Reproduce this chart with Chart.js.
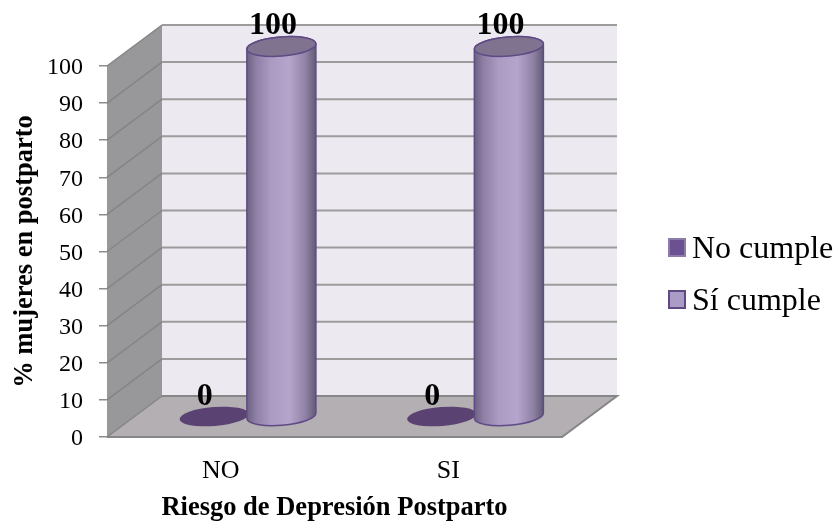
<!DOCTYPE html>
<html>
<head>
<meta charset="utf-8">
<style>
  html, body { margin: 0; padding: 0; background: #fff; }
  #wrap { width: 835px; height: 521px; }
</style>
<script src="https://cdn.jsdelivr.net/npm/chart.js@4"></script>
</head>
<body>
<div id="wrap"><canvas id="riskChart"></canvas></div>
<script>
const categories = ['NO', 'SI'];
const noCumple = [0, 0];
const siCumple = [100, 100];
const yTicks = [0, 10, 20, 30, 40, 50, 60, 70, 80, 90, 100];
const xTitle = 'Riesgo de Depresión Postparto';
const yTitle = '% mujeres en postparto';

const SERIF = '"Liberation Serif", "Times New Roman", serif';
const depthX = 55;
const depthY = 41;

function drawWalls(chart) {
    const ctx = chart.ctx;
    const area = chart.chartArea;
    const y = chart.scales.y;

    // floor
    ctx.beginPath();
    ctx.moveTo(area.left, area.bottom);
    ctx.lineTo(area.right, area.bottom);
    ctx.lineTo(area.right + depthX, area.bottom - depthY);
    ctx.lineTo(area.left + depthX, area.bottom - depthY);
    ctx.closePath();
    ctx.fillStyle = '#b3afb3';
    ctx.fill();

    // back wall
    ctx.fillStyle = '#ece9f1';
    ctx.fillRect(area.left + depthX, area.top - depthY, area.right - area.left, area.bottom - area.top);

    // side wall
    ctx.beginPath();
    ctx.moveTo(area.left, area.bottom);
    ctx.lineTo(area.left + depthX, area.bottom - depthY);
    ctx.lineTo(area.left + depthX, area.top - depthY);
    ctx.lineTo(area.left, area.top);
    ctx.closePath();
    ctx.fillStyle = '#98989a';
    ctx.fill();

    // grid lines run across the side wall and on along the back wall
    yTicks.forEach(v => {
        const py = y.getPixelForValue(v);
        ctx.beginPath();
        ctx.moveTo(area.left, py);
        ctx.lineTo(area.left + depthX, py - depthY);
        ctx.strokeStyle = '#858587';
        ctx.lineWidth = 1.5;
        ctx.stroke();
        if (v > 0) {
            ctx.beginPath();
            ctx.moveTo(area.left + depthX, py - depthY);
            ctx.lineTo(area.right + depthX, py - depthY);
            ctx.strokeStyle = '#9c9c9c';
            ctx.lineWidth = 2;
            ctx.stroke();
        }
    });

    // floor edge, only the front and the two sloping sides
    ctx.beginPath();
    ctx.moveTo(area.left + depthX, area.bottom - depthY);
    ctx.lineTo(area.right + depthX, area.bottom - depthY);
    ctx.lineTo(area.right, area.bottom);
    ctx.lineTo(area.left, area.bottom);
    ctx.strokeStyle = '#868686';
    ctx.lineWidth = 2;
    ctx.stroke();
}

function drawCylinder(ctx, bar, value) {
    const tilt = -0.08;
    const rx = bar.width / 2 + 0.5;
    const ry = 9.5;
    const cx = bar.x + depthX / 2 - 1;
    const top = bar.y - depthY / 2 + 1;
    const base = bar.base - depthY / 2;

    if (value === 0) {
        ctx.beginPath();
        ctx.ellipse(cx + 1, base, rx, ry, tilt, 0, Math.PI * 2);
        ctx.fillStyle = '#5a4272';
        ctx.fill();
        return;
    }

    const grad = ctx.createLinearGradient(cx - rx, 0, cx + rx, 0);
    grad.addColorStop(0, '#6c627f');
    grad.addColorStop(0.14, '#8f80a8');
    grad.addColorStop(0.35, '#ab9ac2');
    grad.addColorStop(0.62, '#b5a4cc');
    grad.addColorStop(0.85, '#8f82a5');
    grad.addColorStop(1, '#625a74');

    ctx.beginPath();
    ctx.ellipse(cx, base, rx, ry, tilt, 0, Math.PI);
    ctx.ellipse(cx, top, rx, ry, tilt, Math.PI, Math.PI * 2);
    ctx.closePath();
    ctx.fillStyle = grad;
    ctx.fill();
    ctx.strokeStyle = '#5f4a86';
    ctx.lineWidth = 1.5;
    ctx.stroke();

    ctx.beginPath();
    ctx.ellipse(cx, top, rx, ry, tilt, 0, Math.PI * 2);
    ctx.fillStyle = '#7f7390';
    ctx.fill();
    ctx.stroke();
}

function drawLegend(chart) {
    const ctx = chart.ctx;
    ctx.textAlign = 'left';
    ctx.textBaseline = 'middle';
    ctx.font = '32px ' + SERIF;
    chart.data.datasets.forEach((ds, i) => {
        const top = 239 + i * 52;
        ctx.fillStyle = ds.backgroundColor;
        ctx.fillRect(669, top, 16, 17);
        ctx.strokeStyle = ds.borderColor;
        ctx.lineWidth = 2;
        ctx.strokeRect(669, top, 16, 17);
        ctx.fillStyle = '#000';
        ctx.fillText(ds.label, 692, top + 11);
    });
}

const cylinders = {
    id: 'cylinders',
    beforeDatasetsDraw(chart) {
        const ctx = chart.ctx;
        ctx.save();
        drawWalls(chart);
        chart.data.datasets.forEach((ds, i) => {
            chart.getDatasetMeta(i).data.forEach((bar, j) => {
                drawCylinder(ctx, bar, ds.data[j]);
            });
        });
        // value labels float above each cylinder
        ctx.fillStyle = '#000';
        ctx.font = 'bold 32px ' + SERIF;
        ctx.textAlign = 'center';
        ctx.textBaseline = 'middle';
        chart.data.datasets.forEach((ds, i) => {
            chart.getDatasetMeta(i).data.forEach((bar, j) => {
                ctx.fillText(String(ds.data[j]), bar.x + 18, bar.y - 40);
            });
        });
        drawLegend(chart);
        ctx.restore();
    },
    beforeDatasetDraw() {
        return false;
    }
};

new Chart(document.getElementById('riskChart'), {
    type: 'bar',
    data: {
        labels: categories,
        datasets: [
            { label: 'No cumple', data: noCumple, backgroundColor: '#6b5191', borderColor: '#8d7ba8' },
            { label: 'Sí cumple', data: siCumple, backgroundColor: '#aa9cc4', borderColor: '#5f4a86' }
        ]
    },
    options: {
        responsive: true,
        maintainAspectRatio: false,
        animation: false,
        barPercentage: 1,
        categoryPercentage: 0.6,
        layout: { padding: { top: 66, right: 273, bottom: 0, left: 0 } },
        plugins: {
            tooltip: { enabled: false },
            legend: { display: false }
        },
        scales: {
            x: {
                afterFit: s => { s.height = 84; },
                grid: { display: false },
                border: { display: false },
                ticks: { color: '#000', padding: 11, font: { family: SERIF, size: 26 } },
                title: {
                    display: true,
                    text: xTitle,
                    color: '#000',
                    padding: { top: 0, bottom: 0 },
                    font: { family: SERIF, size: 26.5, weight: 'bold', lineHeight: 1 }
                }
            },
            y: {
                min: 0,
                max: 100,
                afterFit: s => { s.width = 107; },
                grid: { drawOnChartArea: false, tickLength: 8, color: '#8c8c8c', lineWidth: 1.5 },
                border: { display: false },
                ticks: {
                    stepSize: 10,
                    color: '#000',
                    padding: 16,
                    labelOffset: 2,
                    font: { family: SERIF, size: 24 }
                },
                title: {
                    display: true,
                    text: yTitle,
                    color: '#000',
                    padding: { top: 9, bottom: 0 },
                    font: { family: SERIF, size: 26.5, weight: 'bold' }
                }
            }
        }
    },
    plugins: [cylinders]
});
</script>
</body>
</html>
